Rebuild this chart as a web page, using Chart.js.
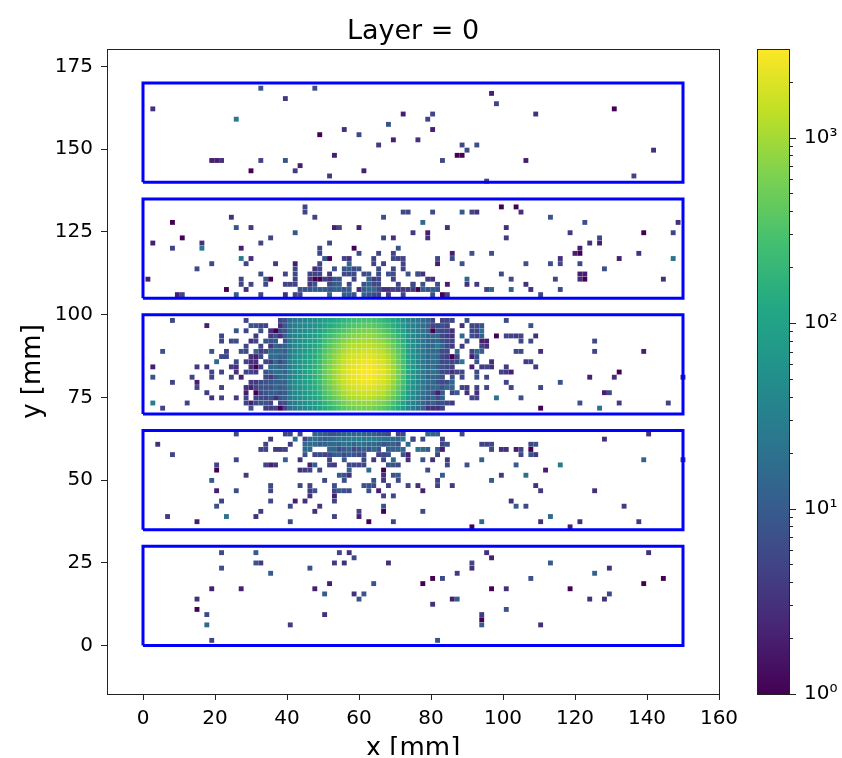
<!DOCTYPE html>
<html>
<head>
<meta charset="utf-8">
<script src="https://cdn.jsdelivr.net/npm/chart.js@4"></script>
<style>
html,body{margin:0;padding:0;background:#fff;overflow:hidden}
canvas{position:absolute;top:0}
#histChart{left:0}
#barChart{left:740px}
</style>
</head>
<body>
<canvas id="histChart" width="842" height="755"></canvas>
<canvas id="barChart" width="102" height="758"></canvas>
<script>
const xTicks = [0,20,40,60,80,100,120,140,160]
const yTicks = [0,25,50,75,100,125,150,175]
const barMajor = [1,10,100,1000]
const barLabels = ["10⁰","10¹","10²","10³"]
const barMinor = [2,3,4,5,6,7,8,9,20,30,40,50,60,70,80,90,200,300,400,500,600,700,800,900,2000]
const boxBottom = [0,35,70,105,140]
const boxTop = [30,65,100,135,170]

// bin sizes in mm
const xBin = 150/110
const yBin = 170/109
const vMax = 3000

// [column, row, count]
const topBox = [[24,108,8],[35,108,6],[29,106,4],[2,104,3],[19,102,25],[53,103,2],[50,101,8],[36,99,1],[41,100,3],[44,99,6],[51,98,2],[56,98,3],[48,97,4],[39,95,2],[14,94,2],[15,94,2],[16,94,3],[24,94,5],[29,94,8],[32,93,2],[22,92,1],[31,92,4],[45,92,2],[38,91,4],
[71,107,2],[72,105,5],[59,103,5],[58,102,5],[59,100,2],[80,103,3],[96,104,1],[65,97,6],[68,97,7],[66,96,6],[64,95,1],[65,95,1],[61,94,6],[78,94,2],[70,90,6],[104,96,3],[100,91,5]]

const upperBox = [[33,85,5],[33,84,5],[35,83,5],[53,84,6],[54,84,5],[49,83,7],[6,82,1],[18,83,3],[19,81,8],[22,81,4],[39,81,2],[40,81,6],[44,81,2],[31,80,9],[55,80,4],[8,79,1],[26,79,5],[49,79,6],[51,79,3],[2,78,2],[12,78,3],[24,78,5],[38,78,6],[6,77,5],[12,77,25],[20,77,2],[36,77,6],[36,76,6],[43,77,1],[52,77,8],[44,76,6],[48,76,6],[51,76,5],
[20,75,25],[22,75,3],[37,75,9],[38,75,1],[41,75,5],[42,75,3],[47,75,5],[51,75,6],[52,75,5],[53,75,5],[14,74,6],[21,74,5],[27,74,4],[31,74,2],[36,74,5],[42,74,15],[47,74,5],[49,74,5],[53,74,5],[11,73,6],[31,73,6],[35,73,3],[36,73,5],[39,73,7],[41,73,8],[42,73,10],[43,73,6],[44,73,8],[48,73,6],[51,73,6],[53,73,5],
[24,72,6],[29,72,5],[31,72,6],[34,72,5],[35,72,5],[36,72,6],[38,72,4],[41,72,6],[42,72,6],[43,72,6],[45,72,6],[46,72,8],[48,72,6],[50,72,7],[51,72,7],[54,72,7],[56,72,8],
[1,71,2],[20,71,5],[25,71,10],[26,71,1],[31,71,5],[34,71,4],[35,71,1],[36,71,1],[37,71,4],[38,71,3],[39,71,8],[40,71,8],[43,71,5],[46,71,12],[47,71,4],[48,71,5],[51,71,5],
[20,70,5],[22,70,5],[25,70,6],[29,70,5],[30,70,5],[31,70,5],[34,70,4],[35,70,8],[38,70,6],[39,70,10],[40,70,12],[42,70,6],[45,70,8],[46,70,12],[47,70,6],[48,70,6],[52,70,5],[55,70,5],
[17,69,1],[21,69,3],[32,69,8],[33,69,8],[34,69,8],[35,69,10],[36,69,10],[37,69,10],[38,69,8],[39,69,12],[40,69,12],[41,69,8],[42,69,10],[44,69,3],[45,69,10],[46,69,15],[47,69,15],[48,69,6],[49,69,3],[50,69,3],[51,69,5],[52,69,4],[53,69,4],[54,69,4],[55,69,4],[56,69,1],
[7,68,2],[8,68,5],[19,68,10],[24,68,5],[29,68,3],[31,68,5],[32,68,5],[38,68,12],[41,68,10],[42,68,10],[43,68,8],[45,68,12],[46,68,8],[47,68,6],[48,68,5],[50,68,4],[53,68,5],
[73,85,1],[76,85,1],[77,84,3],[59,84,6],[65,84,9],[67,84,5],[68,84,3],[83,83,8],[57,82,15],[90,82,7],[109,82,3],[62,81,3],[74,81,3],[58,80,2],[58,79,3],[87,80,4],[102,80,1],[108,80,5],[74,79,4],[93,79,6],[91,78,3],[93,78,2],[89,77,2],
[63,76,2],[67,76,7],[71,76,7],[88,76,2],[89,76,1],[101,76,3],[60,75,6],[63,75,6],[85,75,3],[97,75,2],[108,75,20],[60,74,2],[65,74,8],[78,74,7],[83,74,7],[85,74,6],[89,74,6],[94,73,7],
[56,72,7],[57,72,3],[73,72,6],[89,72,2],[90,72,2],[58,71,4],[59,71,3],[66,71,15],[75,71,6],[84,71,5],[89,71,3],[90,71,1],[106,71,3],[55,70,6],[57,70,8],[60,70,7],[62,70,2],[66,70,3],[68,70,4],[78,70,3],
[57,69,10],[58,69,8],[59,69,10],[60,69,8],[70,69,5],[71,69,15],[75,69,12],[79,69,3],[85,69,6],[59,68,7],[61,68,1],[62,68,5],[81,68,5]]

// dense middle of the beam spot, rows from 63 down to 46, columns 29 to 60
const coreFirstCol = 29
const coreTopRow = 63
const coreCounts = [
[8,18,25,30,36,42,50,65,85,105,125,140,170,200,230,250,280,290,260,220,190,155,115,85,55,34,28,22,16,12,5,0],
[10,22,30,38,42,52,60,75,105,135,165,195,240,290,330,370,410,420,380,320,270,220,155,110,75,42,32,26,18,13,5,6],
[9,24,35,44,50,60,72,95,140,185,230,280,350,420,500,560,600,620,560,470,390,300,210,145,95,50,38,28,20,14,1,8],
[12,25,38,50,58,72,88,120,190,250,320,400,500,630,700,760,820,840,760,640,560,420,290,195,130,62,42,30,22,15,15,15],
[9,28,38,54,66,82,100,140,235,320,420,540,700,860,960,1000,1050,1080,980,830,750,560,380,250,155,72,48,32,20,14,12,15],
[12,26,44,55,70,90,115,165,280,390,530,700,910,1130,1250,1300,1380,1400,1280,1100,1000,730,490,310,195,85,52,36,24,15,15,30],
[11,30,42,60,76,100,130,185,335,460,640,870,1120,1420,1550,1620,1750,1780,1620,1400,1270,940,620,390,230,95,58,36,24,16,15,15],
[14,28,48,62,82,110,145,210,380,530,740,1020,1350,1700,1850,1950,2100,2150,1950,1680,1550,1130,740,455,255,105,62,38,25,14,20,15],
[12,34,46,66,85,115,155,225,410,590,820,1130,1540,1950,2100,2250,2450,2500,2300,1950,1820,1310,860,510,280,115,66,40,24,16,18,15],
[16,30,50,62,90,120,160,235,440,630,900,1230,1680,2100,2300,2500,2700,2780,2550,2200,2030,1470,950,560,300,120,70,42,28,15,18,10],
[13,34,48,68,88,125,170,245,455,640,920,1270,1760,2200,2400,2600,2850,2950,2700,2300,2150,1550,990,570,305,125,72,44,26,17,20,15],
[17,30,50,64,94,120,165,245,440,630,900,1240,1700,2120,2350,2550,2750,2850,2600,2220,2070,1500,960,550,300,120,70,42,27,14,15,12],
[12,32,46,66,84,115,155,225,405,570,820,1130,1550,1950,2120,2280,2450,2500,2320,1980,1850,1340,860,500,275,110,64,40,24,16,15,8],
[14,26,48,58,80,108,140,200,350,500,710,980,1330,1680,1800,1950,2080,2120,1970,1680,1560,1120,730,430,240,100,58,36,25,13,15,15],
[10,28,42,55,72,95,125,170,300,420,590,800,1060,1330,1450,1560,1650,1680,1560,1330,1240,880,570,350,195,85,50,32,20,14,8,2],
[12,24,38,50,64,85,105,145,240,335,450,600,800,1000,1090,1170,1240,1260,1160,980,910,650,430,260,150,68,42,28,18,10,15,6],
[7,22,30,42,54,70,85,115,180,240,320,420,550,680,750,800,840,850,770,650,600,440,290,180,110,50,34,24,14,8,12,6],
[5,16,24,32,42,55,68,90,140,175,230,295,380,460,500,530,550,560,510,430,390,290,195,125,75,38,26,16,12,3,3,3]
]

const middleLeft = [[6,63,6],[21,63,5],[13,62,2],[22,62,8],[23,62,8],[24,62,5],[25,62,5],[19,61,8],[21,61,5],[24,61,8],[26,61,3],[27,61,1],[16,60,5],[16,59,5],[23,60,4],[26,60,4],[27,60,8],[18,59,6],[19,59,6],[22,59,3],[23,59,5],[25,59,8],[26,59,8],[27,59,10],
[21,58,6],[24,58,5],[26,58,4],[27,58,15],[4,57,8],[14,57,8],[17,57,5],[20,57,7],[21,57,6],[23,57,15],[24,57,4],[25,57,6],[26,57,15],[27,57,15],[16,56,6],[17,56,6],[22,56,3],[23,56,2],[24,56,6],[26,56,15],[27,56,18],
[15,55,15],[19,55,6],[21,55,5],[22,55,3],[23,55,3],[25,55,5],[26,55,4],[27,55,15],[2,54,2],[11,54,4],[13,54,3],[18,54,4],[19,54,3],[22,54,3],[23,54,1],[24,54,5],[26,54,15],[27,54,20],
[14,53,5],[16,53,5],[19,53,3],[21,53,5],[22,53,5],[23,53,4],[25,53,8],[26,53,12],[27,53,20],[2,52,8],[10,52,5],[14,52,5],[18,52,6],[20,52,2],[25,52,6],[26,52,4],[27,52,10],[6,51,5],[11,51,2],[22,51,4],[23,51,4],[24,51,6],[25,51,8],[26,51,8],[27,51,12],
[11,50,6],[16,50,5],[21,50,3],[22,50,2],[23,50,5],[24,50,8],[25,50,8],[26,50,8],[27,50,15],[13,49,4],[21,49,2],[23,49,1],[24,49,5],[25,49,8],[26,49,10],[27,49,12],[14,48,3],[16,48,5],[19,48,4],[21,48,5],[23,48,5],[24,48,6],[25,48,5],[26,48,8],[27,48,3],
[2,47,30],[9,47,5],[21,47,5],[22,47,2],[23,47,6],[24,47,8],[25,47,8],[26,47,5],[4,46,5],[22,46,8],[25,46,4],[26,46,4],[27,46,5],
[28,63,5],[28,62,3],[28,61,6],[28,60,3],[28,58,10],[28,57,15],[28,56,12],[28,55,6],[28,54,12],[28,53,18],[28,52,15],[28,51,12],[28,50,10],[28,49,8],[28,48,8],[28,47,6],[28,46,1]]

const middleRight = [[61,63,5],[62,63,5],[63,63,6],[66,63,7],[74,63,6],[61,62,7],[62,62,5],[65,62,3],[67,62,6],[68,62,6],[69,62,8],[79,62,8],[61,61,6],[62,61,5],[63,61,3],[67,61,6],[68,61,5],[69,61,20],[61,60,6],[62,60,4],[63,60,3],[65,60,15],[67,60,8],[68,60,5],[69,60,12],[72,60,1],[74,60,5],[75,60,5],[76,60,4],[77,60,5],[80,60,3],
[61,59,8],[62,59,6],[63,59,5],[66,59,6],[69,59,2],[70,59,2],[77,59,6],[79,59,6],[92,59,6],[61,58,15],[62,58,6],[63,58,4],[65,58,4],[69,58,5],[70,58,3],[61,57,6],[62,57,6],[64,57,18],[67,57,5],[68,57,15],[69,57,12],[76,57,6],[77,57,6],[81,57,3],[92,57,5],[102,57,2],
[61,56,6],[62,56,4],[63,56,1],[64,56,6],[67,56,2],[68,56,8],[61,55,6],[62,55,6],[63,55,5],[64,55,6],[65,55,25],[68,55,8],[71,55,3],[78,55,4],[79,55,5],[61,54,8],[62,54,6],[63,54,5],[67,54,2],[69,54,4],[70,54,5],[71,54,3],[74,54,4],[80,54,4],
[61,53,6],[62,53,5],[63,53,3],[64,53,5],[65,53,6],[68,53,6],[73,53,5],[74,53,4],[75,53,2],[97,53,1],[61,52,8],[63,52,8],[65,52,6],[68,52,8],[70,52,5],[91,52,2],[96,52,3],[110,52,2],[61,51,6],[62,51,6],[63,51,15],[74,51,5],[85,51,8],
[61,50,8],[62,50,15],[63,50,15],[65,50,5],[66,50,4],[68,50,5],[70,50,5],[75,50,5],[81,50,5],[61,49,10],[63,49,5],[64,49,10],[66,49,3],[68,49,3],[94,49,2],[95,49,6],[61,48,12],[67,48,5],[68,48,5],[72,48,20],[77,48,7],[61,47,8],[62,47,5],[63,47,4],[89,47,7],[97,47,4],[107,47,5],[61,46,5],[81,46,1],[93,46,20]]

const lowerBox = [[19,41,6],[29,41,5],[30,41,5],[32,41,5],[35,41,12],[36,41,12],[37,41,10],[38,41,8],[39,41,8],[40,41,10],[41,41,12],[42,41,15],[43,41,12],[44,41,15],[45,41,12],[46,41,12],[47,41,10],[48,41,8],[49,41,8],[50,41,6],[52,41,5],[53,41,5],
[26,40,4],[31,40,15],[33,40,5],[34,40,15],[35,40,20],[36,40,15],[37,40,12],[38,40,15],[39,40,18],[40,40,25],[41,40,20],[42,40,25],[43,40,30],[44,40,30],[45,40,25],[46,40,30],[47,40,30],[48,40,25],[49,40,20],[50,40,20],[51,40,15],[52,40,12],[53,40,30],[55,40,4],
[3,39,3],[25,39,5],[30,39,4],[33,39,15],[34,39,18],[35,39,15],[36,39,10],[37,39,12],[38,39,15],[39,39,15],[40,39,12],[41,39,20],[42,39,18],[43,39,12],[44,39,20],[45,39,18],[46,39,15],[47,39,15],[48,39,12],[49,39,8],[50,39,12],[51,39,12],[52,39,8],[54,39,15],
[24,38,5],[25,38,5],[27,38,4],[28,38,4],[29,38,5],[33,38,15],[34,38,15],[38,38,15],[39,38,15],[40,38,6],[41,38,10],[42,38,12],[43,38,6],[44,38,8],[45,38,12],[46,38,8],[47,38,15],[48,38,8],[50,38,10],[51,38,12],[52,38,12],[53,38,15],[56,38,20],
[6,37,5],[33,37,8],[35,37,6],[36,37,6],[37,37,5],[38,37,6],[39,37,10],[40,37,12],[41,37,6],[42,37,10],[43,37,8],[44,37,6],[45,37,6],[48,37,5],[49,37,6],[50,37,8],[53,37,8],[54,37,2],
[19,36,5],[29,36,12],[32,36,3],[38,36,5],[41,36,10],[45,36,6],[47,36,4],[49,36,5],[51,36,15],[54,36,3],[15,35,5],[25,35,5],[26,35,2],[27,35,4],[34,35,2],[35,35,10],[38,35,5],[39,35,4],[42,35,6],[43,35,6],[44,35,5],[45,35,5],[50,35,8],[51,35,8],[52,35,6],
[15,34,1],[32,34,3],[33,34,4],[34,34,5],[36,34,6],[42,34,12],[46,34,15],[49,34,1],[21,33,4],[40,33,10],[41,33,8],[42,33,3],[49,33,3],[51,33,7],[52,33,10],[14,32,10],[37,32,6],[41,32,7],[47,32,8],[49,32,4],[52,32,6],
[26,31,6],[32,31,6],[34,31,5],[39,31,8],[45,31,8],[46,31,8],[47,31,6],[50,31,5],[54,31,5],[56,31,3],[15,30,2],[19,30,7],[26,30,6],[34,30,4],[35,30,8],[39,30,5],[40,30,10],[41,30,7],[42,30,6],[46,30,8],[48,30,2],[34,29,3],[39,29,2],[49,29,5],[51,29,6],
[16,28,5],[26,28,6],[31,28,2],[33,28,3],[39,28,5],[15,27,7],[30,27,6],[36,27,4],[49,27,8],[24,26,4],[35,26,3],[44,26,5],[49,26,1],[5,25,4],[17,25,20],[23,25,3],[39,25,5],[44,25,2],[11,24,2],[30,24,6],[46,24,1],[51,24,5],
[58,41,15],[59,41,12],[60,41,12],[65,41,6],[103,41,3],[55,40,5],[57,40,6],[61,40,5],[94,40,3],[61,39,5],[62,39,8],[69,39,5],[70,39,5],[71,39,6],[79,39,5],[80,39,8],[57,38,15],[58,38,10],[60,38,12],[61,38,2],[71,38,6],[73,38,3],[74,38,3],[76,38,2],[77,38,5],[79,38,1],
[60,37,5],[77,37,6],[79,37,8],[80,37,4],[57,36,8],[59,36,3],[62,36,4],[69,36,12],[102,36,12],[110,36,3],[62,35,6],[66,35,7],[76,35,10],[85,35,25],[58,34,6],[82,34,2],[61,33,10],[73,33,4],[78,33,18],[60,32,5],[71,32,10],[60,31,5],[63,31,4],[80,31,3],[57,30,2],[81,30,4],[92,30,3],
[75,28,3],[76,27,10],[78,27,6],[98,27,4],[57,26,6],[83,25,15],[69,24,15],[81,24,3],[89,24,3],[101,24,4],[67,23,1],[87,23,2]]

const bottomBox = [[16,18,6],[23,18,10],[40,18,5],[42,18,3],[43,17,6],[23,16,8],[24,16,4],[39,16,4],[41,16,3],[50,16,3],[16,15,7],[26,14,10],[34,15,7],[38,12,2],[47,12,8],[14,11,2],[20,11,2],[35,11,2],[37,10,10],[43,10,3],[45,10,8],[11,9,3],[44,9,8],[11,7,1],[13,6,6],[37,6,3],[13,4,15],[30,4,4],[14,1,5],
[70,18,3],[71,17,2],[67,16,5],[67,15,3],[83,16,10],[103,18,3],[95,15,3],[64,14,4],[92,14,12],[59,13,1],[61,13,6],[79,13,7],[57,12,1],[102,12,1],[106,13,1],[71,11,1],[74,11,3],[87,11,1],[95,10,6],[63,9,2],[64,9,10],[91,9,3],[94,9,3],[59,8,3],[74,7,7],[69,6,4],[69,5,1],[69,4,10],[81,4,3],[60,1,8]]

// viridis, every 0.1
const viridis = ["#440154","#482475","#414487","#355f8d","#2a788e","#21918c","#22a884","#44bf70","#7ad151","#bddf26","#fde725"]

function hexToRgb(h){
return [parseInt(h.slice(1,3),16),parseInt(h.slice(3,5),16),parseInt(h.slice(5,7),16)]
}

function countColor(v){
const t = Math.min(1,Math.log10(v)/Math.log10(vMax))*10
const i = Math.min(9,Math.floor(t))
const a = hexToRgb(viridis[i])
const b = hexToRgb(viridis[i+1])
const f = t-i
return `rgb(${a.map((c,k)=>Math.round(c+(b[k]-c)*f)).join(",")})`
}

const cells = [...topBox,...upperBox,...middleLeft,...middleRight,...lowerBox,...bottomBox]
coreCounts.forEach((r,i)=>{
r.forEach((v,j)=>{
if(v>0){cells.push([coreFirstCol+j,coreTopRow-i,v])}
})
})

const points = cells.map(c=>({x:c[0]*xBin,y:c[1]*yBin,v:c[2]}))

const boxes = boxBottom.map((b,i)=>({
type:"scatter",
order:0,
showLine:true,
pointRadius:0,
borderColor:"#0000ff",
borderWidth:3,
borderJoinStyle:"miter",
clip:false,
data:[{x:0,y:b},{x:150,y:b},{x:150,y:boxTop[i]},{x:0,y:boxTop[i]},{x:0,y:b}]
}))

const fontName = "'DejaVu Sans'"

const frame = {
id:"frame",
afterDatasetsDraw(chart){
const a = chart.chartArea
const c = chart.ctx
c.save()
c.strokeStyle = "#222"
c.lineWidth = 1
c.strokeRect(Math.round(a.left)+.5,Math.round(a.top)+.5,Math.round(a.right-a.left),Math.round(a.bottom-a.top))
c.restore()
}
}

new Chart(document.getElementById("histChart"),{
type:"scatter",
data:{datasets:[
...boxes,
{
order:1,
data:points,
pointStyle:"rect",
pointRadius:3.45,
pointBorderWidth:0,
pointBackgroundColor:ctx=>countColor(ctx.raw.v)
}
]},
options:{
responsive:false,
animation:false,
layout:{padding:{left:0,right:123,top:0,bottom:0}},
plugins:{
legend:{display:false},
tooltip:{enabled:false},
title:{
display:true,
text:"Layer = 0",
fullSize:false,
color:"#000",
font:{family:fontName,size:27,weight:"normal"},
padding:{top:16,bottom:.6}
}
},
scales:{
x:{
type:"linear",
min:-10,
max:160,
afterBuildTicks:s=>{s.ticks = xTicks.map(v=>({value:v}))},
afterFit:s=>{s.height = 61},
ticks:{color:"#000",font:{family:fontName,size:20},padding:7,maxRotation:0},
grid:{drawOnChartArea:false,color:"#222",tickLength:6},
border:{color:"#222"},
title:{display:true,text:"x [mm]",color:"#000",font:{family:fontName,size:26},padding:{top:0,bottom:-9.6}}
},
y:{
type:"linear",
min:-14.65,
max:180.3,
afterBuildTicks:s=>{s.ticks = yTicks.map(v=>({value:v}))},
afterFit:s=>{s.width = 107},
ticks:{color:"#000",font:{family:fontName,size:20},padding:8},
grid:{drawOnChartArea:false,color:"#222",tickLength:6},
border:{color:"#222"},
title:{display:true,text:"y [mm]",color:"#000",font:{family:fontName,size:26},padding:{top:18,bottom:0}}
}
}
},
plugins:[frame]
})

const barTicks = {
id:"barTicks",
afterDatasetsDraw(chart){
const s = chart.scales.y
const c = chart.ctx
const right = chart.chartArea.right
c.save()
c.strokeStyle = "#222"
c.lineWidth = 1
const mark = (v,len)=>{
const p = Math.round(s.getPixelForValue(v))+.5
c.beginPath()
c.moveTo(right,p)
c.lineTo(right+len,p)
c.stroke()
}
barMajor.forEach(v=>mark(v,7))
barMinor.forEach(v=>mark(v,4))
c.restore()
}
}

new Chart(document.getElementById("barChart"),{
type:"bar",
data:{
labels:["counts"],
datasets:[{
data:[[1,vMax]],
barPercentage:1,
categoryPercentage:1,
backgroundColor:ctx=>{
const a = ctx.chart.chartArea
if(!a){return viridis[0]}
const g = ctx.chart.ctx.createLinearGradient(0,a.bottom,0,a.top)
viridis.forEach((h,i)=>g.addColorStop(i/10,h))
return g
}
}]
},
options:{
responsive:false,
animation:false,
layout:{padding:{left:17,right:0,top:49,bottom:64}},
plugins:{legend:{display:false},tooltip:{enabled:false}},
scales:{
x:{display:false},
y:{
type:"logarithmic",
position:"right",
min:1,
max:vMax,
afterBuildTicks:s=>{s.ticks = barMajor.map(v=>({value:v}))},
afterFit:s=>{s.width = 53},
ticks:{
color:"#000",
font:{family:fontName,size:20},
padding:7,
callback:v=>barLabels[barMajor.indexOf(v)]
},
grid:{display:false},
border:{display:false}
}
}
},
plugins:[frame,barTicks]
})
</script>
</body>
</html>
